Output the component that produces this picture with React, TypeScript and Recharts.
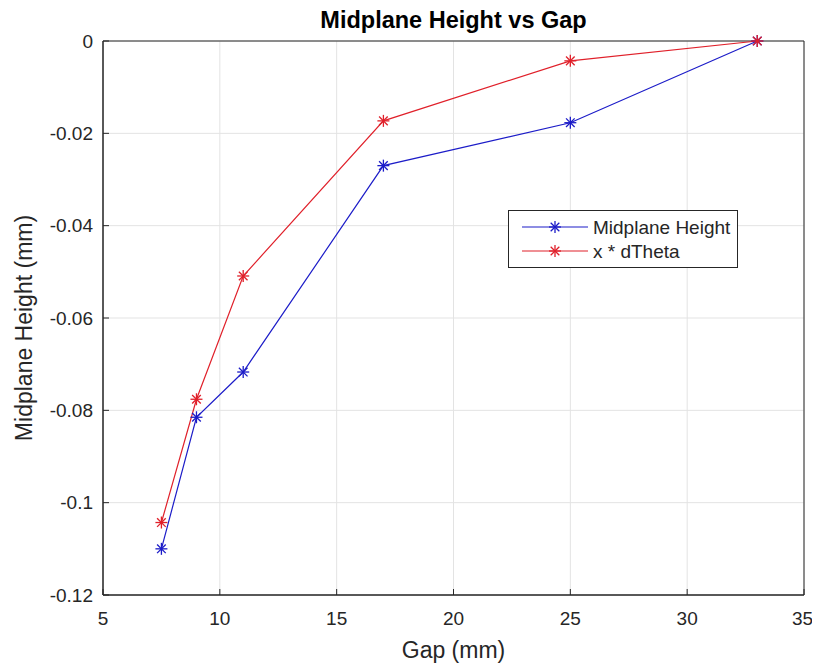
import { LineChart, Line, XAxis, YAxis, CartesianGrid, ReferenceArea } from 'recharts';

const gaps = [7.5, 9, 11, 17, 25, 33];
const midplaneHeight = [-0.11, -0.0815, -0.0717, -0.027, -0.0177, 0];
const xDTheta = [-0.1043, -0.0776, -0.0509, -0.0173, -0.0043, 0];
const xTicks = [5, 10, 15, 20, 25, 30, 35];
const yTicks = [-0.12, -0.1, -0.08, -0.06, -0.04, -0.02, 0];

const data = gaps.map((g, i) => ({ gap: g, mid: midplaneHeight[i], theta: xDTheta[i] }));

const BLUE = '#1c1cc8';
const RED = '#e0202a';
const AXIS = '#262626';
const FONT = '"Liberation Sans", Arial, sans-serif';

// asterisk marker like matlab's '*'
const Star = ({ cx, cy, color, r = 6 }: any) => {
  if (cx == null || cy == null) return null;
  const d = r * 0.72;
  return (
    <g stroke={color} strokeWidth={1.3}>
      <line x1={cx - r} y1={cy} x2={cx + r} y2={cy} />
      <line x1={cx} y1={cy - r} x2={cx} y2={cy + r} />
      <line x1={cx - d} y1={cy - d} x2={cx + d} y2={cy + d} />
      <line x1={cx - d} y1={cy + d} x2={cx + d} y2={cy - d} />
    </g>
  );
};

const legendRows = [
  { name: 'Midplane Height', color: BLUE },
  { name: 'x * dTheta', color: RED },
];

const LegendBox = () => (
  <div style={{ position: 'absolute', left: 500, top: 202, width: 228, height: 56, border: `1px solid ${AXIS}`, background: '#fff', fontSize: 19, color: AXIS }}>
    {legendRows.map((r, i) => (
      <div key={r.name} style={{ display: 'flex', alignItems: 'center', height: 24, marginTop: i === 0 ? 4 : 0 }}>
        <svg width={84} height={20}>
          <line x1={13} y1={10} x2={79} y2={10} stroke={r.color} strokeWidth={1.2} />
          <Star cx={46} cy={10} color={r.color} />
        </svg>
        <span style={{ lineHeight: 1 }}>{r.name}</span>
      </div>
    ))}
  </div>
);

const fmt = (v: number) => (v === 0 ? '0' : String(Number(v.toFixed(2))));

export default function App() {
  return (
    <div style={{ position: 'relative', width: 804, height: 660, fontFamily: FONT }}>
      <div style={{ position: 'absolute', left: 95, width: 701, top: 1, lineHeight: 1, textAlign: 'center', fontWeight: 'bold', fontSize: 23.5, color: '#000' }}>
        Midplane Height vs Gap
      </div>
      <LineChart width={804} height={660} data={data} margin={{ top: 33, right: 8, left: 35, bottom: 43 }}>
        <CartesianGrid stroke="#e3e3e3" strokeWidth={1} />
        <XAxis
          dataKey="gap"
          type="number"
          domain={[5, 35]}
          ticks={xTicks}
          height={30}
          tickSize={-6}
          tickMargin={23}
          stroke={AXIS}
          tick={{ fill: AXIS, fontSize: 19, fontFamily: FONT }}
          label={{ value: 'Gap (mm)', position: 'bottom', offset: 17, fill: AXIS, fontSize: 23, fontFamily: FONT }}
        />
        <YAxis
          type="number"
          domain={[-0.12, 0]}
          ticks={yTicks}
          width={60}
          tickSize={-6}
          tickMargin={16}
          tickFormatter={fmt}
          stroke={AXIS}
          tick={{ fill: AXIS, fontSize: 19, fontFamily: FONT }}
        />
        <ReferenceArea x1={5} x2={35} y1={-0.12} y2={0} fill="none" stroke={AXIS} strokeWidth={1} ifOverflow="visible" />
        <Line
          type="linear"
          dataKey="mid"
          stroke={BLUE}
          strokeWidth={1.2}
          isAnimationActive={false}
          dot={(p: any) => <Star key={`b${p.index}`} cx={p.cx} cy={p.cy} color={BLUE} />}
        />
        <Line
          type="linear"
          dataKey="theta"
          stroke={RED}
          strokeWidth={1.2}
          isAnimationActive={false}
          dot={(p: any) => <Star key={`r${p.index}`} cx={p.cx} cy={p.cy} color={RED} />}
        />
      </LineChart>
      <div style={{ position: 'absolute', left: 16, top: 320, transform: 'translate(-50%, -50%) rotate(-90deg)', whiteSpace: 'nowrap', fontSize: 23, lineHeight: 1, color: AXIS }}>
        Midplane Height (mm)
      </div>
      <LegendBox />
    </div>
  );
}
